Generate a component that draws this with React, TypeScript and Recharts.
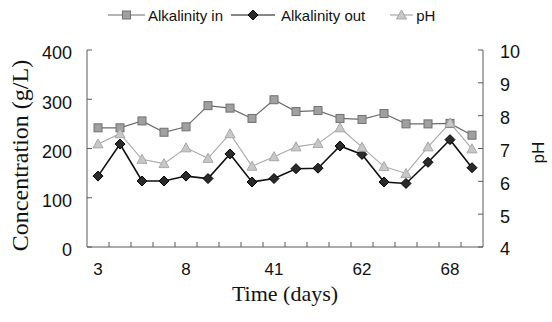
import React from 'react';
import { LineChart, Line, XAxis, YAxis, Legend } from 'recharts';

// sample number along the x axis, and the day printed under every 4th sample
const samples = [1, 2, 3, 4, 5, 6, 7, 8, 9, 10, 11, 12, 13, 14, 15, 16, 17, 18];
const dayLabels = ['3', '', '', '', '8', '', '', '', '41', '', '', '', '62', '', '', '', '68', ''];

const alkalinityIn = [242, 242, 256, 233, 244, 287, 282, 261, 299, 275, 277, 261, 259, 271, 250, 250, 251, 227];
const alkalinityOut = [144, 209, 134, 134, 144, 139, 189, 132, 139, 159, 160, 205, 188, 132, 129, 172, 218, 161];
const phValues = [7.14, 7.45, 6.67, 6.54, 7.02, 6.7, 7.45, 6.46, 6.75, 7.05, 7.15, 7.63, 7.04, 6.45, 6.24, 7.05, 7.78, 6.99];

const concTicks = [0, 100, 200, 300, 400];
const phTicks = [4, 5, 6, 7, 8, 9, 10];

const data = samples.map((s, i) => ({
  sample: s,
  alkIn: alkalinityIn[i],
  alkOut: alkalinityOut[i],
  ph: phValues[i],
}));

const W = 552;
const H = 322;
const PLOT = { left: 87, right: 69, top: 50, bottom: 75 };
const SANS = '"Liberation Sans", Arial, sans-serif';
const SERIF = '"Liberation Serif", "Times New Roman", serif';
const AXIS = '#5a5a5a';

const step = (W - PLOT.left - PLOT.right) / samples.length;

const SquareDot = ({ cx, cy }: any) =>
  cx == null ? null : (
    <rect x={cx - 4} y={cy - 4} width={8} height={8} fill="#a0a0a0" stroke="#707070" strokeWidth={1} />
  );

const DiamondDot = ({ cx, cy }: any) =>
  cx == null ? null : (
    <path d={`M${cx},${cy - 5} L${cx + 5},${cy} L${cx},${cy + 5} L${cx - 5},${cy} Z`} fill="#2a2a2a" stroke="#000" strokeWidth={1} />
  );

const TriangleDot = ({ cx, cy }: any) =>
  cx == null ? null : (
    <path d={`M${cx},${cy - 5} L${cx + 5},${cy + 4} L${cx - 5},${cy + 4} Z`} fill="#c8c8c8" stroke="#a8a8a8" strokeWidth={1} />
  );

const legendItems = [
  { name: 'Alkalinity in', color: '#6a6a6a', Dot: SquareDot, line: 37, textGap: 3, after: 8 },
  { name: 'Alkalinity out', color: '#111', Dot: DiamondDot, line: 44, textGap: 6, after: 25 },
  { name: 'pH', color: '#a8a8a8', Dot: TriangleDot, line: 23, textGap: 3, after: 0 },
];

const ChartLegend = () => (
  <div style={{ display: 'flex', alignItems: 'center', paddingLeft: 108, height: 20, fontFamily: SANS, fontSize: 15, color: '#111' }}>
    {legendItems.map((it) => (
      <div key={it.name} style={{ display: 'flex', alignItems: 'center', marginRight: it.after }}>
        <svg width={it.line} height={12}>
          <line x1={0} x2={it.line} y1={6} y2={6} stroke={it.color} strokeWidth={1.2} />
          <it.Dot cx={it.line / 2} cy={6} />
        </svg>
        <span style={{ marginLeft: it.textGap }}>{it.name}</span>
      </div>
    ))}
  </div>
);

// category ticks: label every 4th sample, small inward tick between samples
const DayTick = ({ x, y, index }: any) => {
  const label = dayLabels[index];
  return (
    <g>
      {index < samples.length - 1 && (
        <line x1={x + step / 2} x2={x + step / 2} y1={y} y2={y - 5} stroke={AXIS} />
      )}
      {label && (
        <text x={x} y={y + 28} textAnchor="middle" fill="#111" fontSize={17} fontFamily={SANS}>
          {label}
        </text>
      )}
    </g>
  );
};

const App = () => {
  return (
    <div style={{ position: 'absolute', left: 0, top: 0, width: W, height: H, background: '#fff' }}>
      <LineChart width={W} height={H} data={data} margin={{ top: PLOT.top, right: 0, bottom: 0, left: 0 }}>
        <XAxis
          dataKey="sample"
          scale="band"
          interval={0}
          height={PLOT.bottom}
          tickSize={0}
          tickMargin={0}
          tickLine={false}
          axisLine={{ stroke: AXIS }}
          tick={<DayTick />}
          label={{
            content: ({ viewBox }: any) => (
              <text
                x={viewBox.x + viewBox.width / 2}
                y={viewBox.y + 54}
                textAnchor="middle"
                fill="#111"
                fontSize={22}
                fontFamily={SERIF}
              >
                Time (days)
              </text>
            ),
          }}
        />
        <XAxis xAxisId="top" dataKey="sample" orientation="top" height={0} tick={false} tickLine={false} axisLine={{ stroke: AXIS }} />
        <YAxis
          yAxisId="left"
          domain={[0, 400]}
          ticks={concTicks}
          width={PLOT.left}
          tickSize={-5}
          tickMargin={20}
          axisLine={{ stroke: AXIS }}
          tickLine={{ stroke: AXIS }}
          tick={{ fill: '#111', fontSize: 18, fontFamily: SANS, dy: 3 }}
          label={{
            content: ({ viewBox }: any) => {
              const cx = viewBox.x + 20;
              const cy = viewBox.y + viewBox.height / 2 + 7;
              return (
                <text
                  x={cx}
                  y={cy}
                  transform={`rotate(-90 ${cx} ${cy})`}
                  textAnchor="middle"
                  dominantBaseline="central"
                  fill="#111"
                  fontSize={24}
                  fontFamily={SERIF}
                >
                  Concentration (g/L)
                </text>
              );
            },
          }}
        />
        <YAxis
          yAxisId="right"
          orientation="right"
          domain={[4, 10]}
          ticks={phTicks}
          width={PLOT.right}
          tickSize={-5}
          tickMargin={22}
          axisLine={{ stroke: AXIS }}
          tickLine={{ stroke: AXIS }}
          tick={{ fill: '#111', fontSize: 18, fontFamily: SANS, dy: 2, textAnchor: 'start' }}
          label={{
            content: ({ viewBox }: any) => {
              const cx = viewBox.x + 55;
              const cy = viewBox.y + viewBox.height / 2 + 4;
              return (
                <text
                  x={cx}
                  y={cy}
                  transform={`rotate(-90 ${cx} ${cy})`}
                  textAnchor="middle"
                  dominantBaseline="central"
                  fill="#111"
                  fontSize={17}
                  fontFamily={SANS}
                >
                  pH
                </text>
              );
            },
          }}
        />
        <Legend
          layout="horizontal"
          verticalAlign="middle"
          align="center"
          wrapperStyle={{ top: 5, left: 0, width: W, height: 20 }}
          content={<ChartLegend />}
        />
        <Line
          yAxisId="left"
          dataKey="alkIn"
          name="Alkalinity in"
          stroke="#6a6a6a"
          strokeWidth={1.2}
          dot={<SquareDot />}
          activeDot={false}
          isAnimationActive={false}
        />
        <Line
          yAxisId="left"
          dataKey="alkOut"
          name="Alkalinity out"
          stroke="#111"
          strokeWidth={1.6}
          dot={<DiamondDot />}
          activeDot={false}
          isAnimationActive={false}
        />
        <Line
          yAxisId="right"
          dataKey="ph"
          name="pH"
          stroke="#a8a8a8"
          strokeWidth={1.1}
          dot={<TriangleDot />}
          activeDot={false}
          isAnimationActive={false}
        />
      </LineChart>
    </div>
  );
};

export default App;
